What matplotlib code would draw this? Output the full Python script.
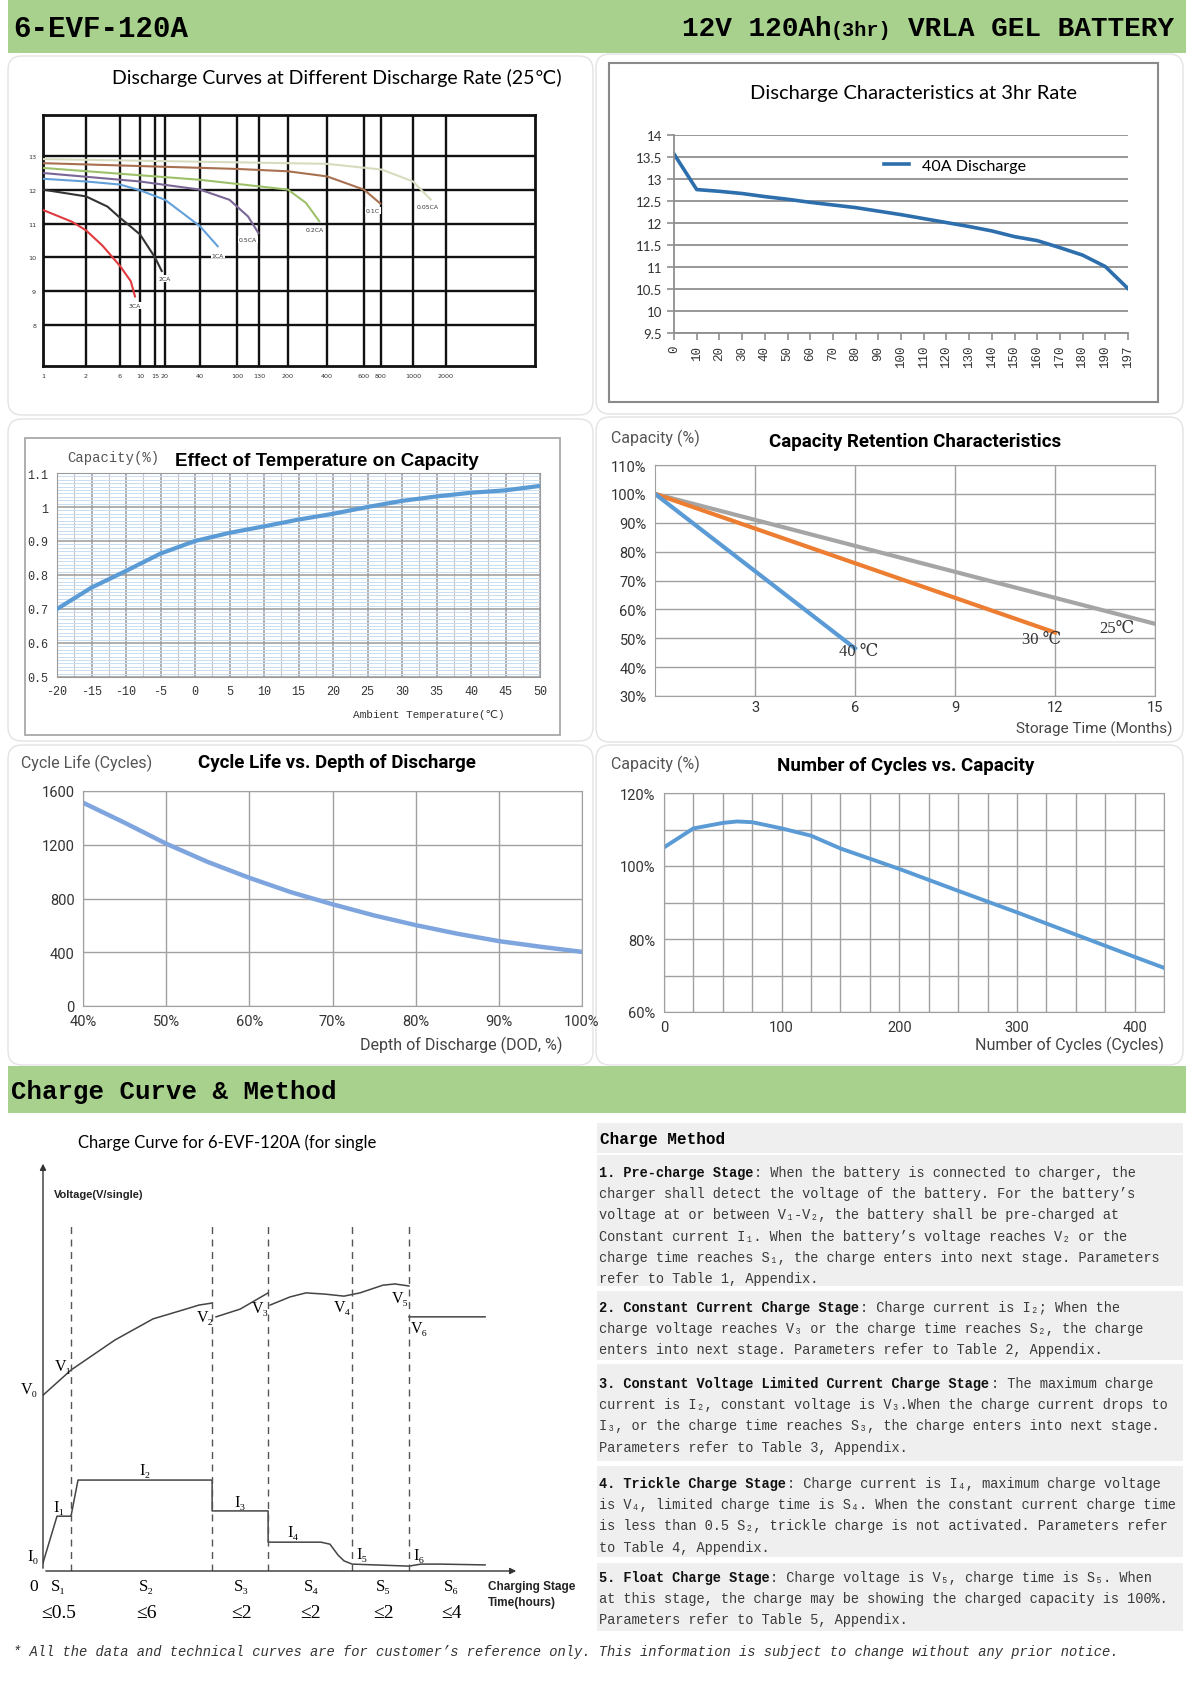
import numpy as np
import matplotlib
matplotlib.use("Agg")
import matplotlib.pyplot as plt
from matplotlib.patches import FancyBboxPatch, Rectangle
from matplotlib.transforms import IdentityTransform
from matplotlib.ticker import MultipleLocator

plt.rcParams["axes.unicode_minus"] = False

W, H = 1192, 1699

# ---------------- data ----------------
# discharge curves at different rates (x in minutes, y in volts)
rate_names = ["3CA", "2CA", "1CA", "0.5CA", "0.2CA", "0.1C", "0.05CA"]
t_3ca = [1, 1.6, 2, 3.4, 6, 7.9, 8.8]
v_3ca = [11.4, 11.05, 10.8, 10.35, 9.75, 9.3, 8.85]
t_2ca = [1, 2, 4, 6, 10, 15, 18.2]
v_2ca = [12.0, 11.8, 11.5, 11.17, 10.68, 10.0, 9.6]
t_1ca = [1, 2, 6, 10, 20, 40, 62]
v_1ca = [12.32, 12.24, 12.15, 11.98, 11.7, 10.92, 10.33]
t_05ca = [1, 10, 40, 83, 114, 129]
v_05ca = [12.49, 12.24, 12.0, 11.7, 11.21, 10.72]
t_02ca = [1, 40, 200, 275, 348]
v_02ca = [12.64, 12.29, 12.0, 11.61, 11.07]
t_01c = [1, 100, 200, 400, 600, 790]
v_01c = [12.78, 12.61, 12.54, 12.39, 12.0, 11.59]
t_005ca = [1, 400, 805, 1000, 1450]
v_005ca = [12.9, 12.76, 12.59, 12.24, 11.71]
rate_label_t = [8.8, 20, 62, 114, 321, 700, 1375]
rate_label_v = [8.59, 9.37, 10.07, 10.53, 10.82, 11.39, 11.51]
dc_ticks = [1, 2, 6, 10, 15, 20, 40, 100, 130, 200, 400, 600, 800, 1000, 2000]
dc_volt_ticks = [8, 9, 10, 11, 12, 13]

# discharge at 3hr rate
ah_labels = ["0", "10", "20", "30", "40", "50", "60", "70", "80", "90", "100", "110",
             "120", "130", "140", "150", "160", "170", "180", "190", "197"]
dis_volts = [13.57, 12.76, 12.72, 12.67, 12.6, 12.54, 12.47, 12.41, 12.35, 12.27, 12.19,
             12.1, 12.01, 11.92, 11.82, 11.69, 11.6, 11.44, 11.27, 11.01, 10.51]

# effect of temperature
temps = [-20, -15, -10, -5, 0, 5, 10, 15, 20, 25, 30, 35, 40, 45, 50]
temp_cap = [0.70, 0.763, 0.812, 0.863, 0.90, 0.924, 0.943, 0.963, 0.98, 1.0, 1.018,
            1.031, 1.042, 1.049, 1.062]

# capacity retention (months, %)
ret_months_40 = [0, 6]
ret_cap_40 = [100, 46.5]
ret_months_30 = [0, 12]
ret_cap_30 = [100, 52]
ret_months_25 = [0, 15]
ret_cap_25 = [100, 55]

# cycle life vs DOD
dod = [40, 45, 50, 55, 60, 65, 70, 75, 80, 85, 90, 95, 100]
cycle_life = [1513, 1364, 1208, 1072, 954, 847, 757, 674, 602, 538, 483, 441, 403]

# number of cycles vs capacity
n_cycles = [0, 25, 50, 62, 75, 100, 125, 150, 175, 200, 250, 300, 350, 400, 425]
cyc_cap = [105.1, 110.3, 111.8, 112.2, 112.0, 110.3, 108.3, 104.8, 102.0, 99.2, 93.2,
           87.3, 81.2, 75.1, 72.1]

# charge curve schematic (stage time units, relative level 0-100)
stage_bounds = [1.0, 6.04, 8.04, 11.04, 13.07]
volt_t = [0, 1.0, 2.57, 3.93, 5.0, 5.57, 6.04, None, 6.18, 7.04, 8.04, None, 8.11, 8.82,
          9.39, 10.07, 10.75, 11.32, 12.14, 12.57, 13.07, None, 13.07, 15.79]
volt_y = [43.3, 49.5, 56.9, 62.1, 64.3, 65.5, 66.0, None, 62.6, 64.5, 68.5, None, 65.5,
          67.5, 68.5, 68.2, 67.7, 68.5, 70.4, 70.7, 70.2, None, 62.6, 62.6]
curr_t = [0, 0.5, 1.0, 1.25, 6.04, 6.04, 8.04, 8.04, 9.93, 10.25, 10.54, 10.75, 11.04,
          13.07, 13.5, 14.18, 15.79]
curr_y = [2.0, 13.5, 13.5, 22.4, 22.4, 14.8, 14.8, 7.1, 7.1, 6.6, 3.9, 2.5, 1.7, 1.2,
          1.7, 1.7, 1.5]
v_names = ["V₀", "V₁", "V₂", "V₃", "V₄", "V₅", "V₆"]
v_name_x = [-0.5, 0.71, 5.79, 7.75, 10.68, 12.75, 13.43]
v_name_y = [44.8, 50.5, 62.6, 64.8, 65.0, 67.2, 59.9]
i_names = ["I₀", "I₁", "I₂", "I₃", "I₄", "I₅", "I₆"]
i_name_x = [-0.36, 0.57, 3.64, 7.04, 8.93, 11.39, 13.43]
i_name_y = [3.7, 15.8, 24.9, 17.0, 9.6, 4.2, 3.9]
s_names = ["S₁", "S₂", "S₃", "S₄", "S₅", "S₆"]
s_limits = ["≤0.5", "≤6", "≤2", "≤2", "≤2", "≤4"]
s_centers = [0.55, 3.7, 7.1, 9.57, 12.15, 14.6]

# charge method text
method_heading = "Charge Method"
method_items = [
    ("1. Pre-charge Stage", [
        ": When the battery is connected to charger, the",
        "charger shall detect the voltage of the battery. For the battery’s",
        "voltage at or between V₁-V₂, the battery shall be pre-charged at",
        "Constant current I₁. When the battery’s voltage reaches V₂ or the",
        "charge time reaches S₁, the charge enters into next stage. Parameters",
        "refer to Table 1, Appendix."]),
    ("2. Constant Current Charge Stage", [
        ": Charge current is I₂; When the",
        "charge voltage reaches V₃ or the charge time reaches S₂, the charge",
        "enters into next stage. Parameters refer to Table 2, Appendix."]),
    ("3. Constant Voltage Limited Current Charge Stage", [
        ": The maximum charge",
        "current is I₂, constant voltage is V₃.When the charge current drops to",
        "I₃, or the charge time reaches S₃, the charge enters into next stage.",
        "Parameters refer to Table 3, Appendix."]),
    ("4. Trickle Charge Stage", [
        ": Charge current is I₄, maximum charge voltage",
        "is V₄, limited charge time is S₄. When the constant current charge time",
        "is less than 0.5 S₂, trickle charge is not activated. Parameters refer",
        "to Table 4, Appendix."]),
    ("5. Float Charge Stage", [
        ": Charge voltage is V₅, charge time is S₅. When",
        "at this stage, the charge may be showing the charged capacity is 100%.",
        "Parameters refer to Table 5, Appendix."]),
]
footer = ("* All the data and technical curves are for customer’s reference only. "
          "This information is subject to change without any prior notice.")

# ---------------- helpers ----------------
fig = plt.figure(figsize=(W / 100, H / 100), dpi=100)
fig.patch.set_facecolor("white")

MONO = ["Liberation Mono", "DejaVu Sans Mono", "DejaVu Sans"]
SERIF = ["Liberation Serif", "DejaVu Serif"]
CAL = ["Lato", "DejaVu Sans"]
DIN = ["Roboto", "DejaVu Sans"]


def px_axes(l, t, r, b):
    return fig.add_axes([l / W, 1 - b / H, (r - l) / W, (b - t) / H])


def box(l, t, r, b, fc="white", ec="#e3e3e3", rnd=14, lw=1.0, z=-5):
    if rnd:
        p = FancyBboxPatch((l, H - b), r - l, b - t,
                           boxstyle="round,pad=0,rounding_size=%d" % rnd,
                           transform=IdentityTransform(), fc=fc, ec=ec, lw=lw, zorder=z)
    else:
        p = Rectangle((l, H - b), r - l, b - t, transform=IdentityTransform(),
                      fc=fc, ec=ec, lw=lw, zorder=z)
    fig.patches.append(p)


def ftext(x, y, s, **kw):
    kw.setdefault("va", "center")
    return fig.text(x / W, 1 - y / H, s, **kw)


# ---------------- page frame ----------------
box(8, 0, 1186, 54, fc="#a9d18e", ec="none", rnd=0)
box(8, 1067, 1186, 1114, fc="#a9d18e", ec="none", rnd=0)
ftext(13, 29, "6-EVF-120A", family=MONO, fontsize=21, weight="bold")
ftext(682, 29, "12V 120Ah", family=MONO, fontsize=20, weight="bold")
ftext(831, 31, "(3hr)", family=MONO, fontsize=14.5, weight="bold")
ftext(908, 29, "VRLA GEL BATTERY", family=MONO, fontsize=20, weight="bold")
ftext(11, 1092, "Charge Curve & Method", family=MONO, fontsize=18.5, weight="bold")

box(8, 57, 593, 416)
box(596, 55, 1183, 415)
box(8, 420, 593, 742)
box(596, 418, 1183, 743)
box(8, 746, 593, 1066)
box(596, 746, 1183, 1066)

# ---------------- discharge curves at different rates ----------------
ftext(337, 78, "Discharge Curves at Different Discharge Rate (25℃)", family=CAL,
      fontsize=14, ha="center")
ax1 = px_axes(43, 116, 535, 367)
tick_px = [43, 86, 120, 140, 155, 165, 200, 237, 259, 288, 327, 364, 381, 413, 446, 535]
log_pts = np.log10(dc_ticks + [12900])


def fwd(x):
    return np.interp(np.log10(np.clip(x, 1e-6, None)), log_pts, tick_px)


def inv(p):
    return 10 ** np.interp(p, tick_px, log_pts)


ax1.set_xscale("function", functions=(fwd, inv))
rate_colors = ["#e0393e", "#333333", "#62a0da", "#7a6796", "#9dc16a", "#a8704f", "#d8dcbf"]
series = [(t_3ca, v_3ca), (t_2ca, v_2ca), (t_1ca, v_1ca), (t_05ca, v_05ca),
          (t_02ca, v_02ca), (t_01c, v_01c), (t_005ca, v_005ca)]
for (tt, vv), c in zip(series, rate_colors):
    ax1.plot(tt, vv, color=c, lw=1.5, zorder=3)
for name, tx, vy in zip(rate_names, rate_label_t, rate_label_v):
    ax1.text(tx, vy, name, fontsize=4.4, ha="center", va="center", color="#333",
             bbox=dict(fc="white", ec="none", pad=0.6), zorder=4)
ax1.set_xlim(1, 12900)
ax1.set_ylim(6.8, 14.2)
ax1.set_xticks(dc_ticks)
ax1.set_xticklabels([str(t) for t in dc_ticks])
ax1.xaxis.set_minor_locator(plt.NullLocator())
ax1.set_yticks(dc_volt_ticks)
ax1.grid(True, color="#111111", lw=1.7, zorder=1)
ax1.set_axisbelow(True)
ax1.tick_params(length=0, labelsize=4.6, colors="#333", pad=5)
for s in ax1.spines.values():
    s.set_linewidth(2)
    s.set_color("#111111")

# ---------------- discharge characteristics at 3hr rate ----------------
box(609, 64, 1158, 403, fc="white", ec="#8a8a8a", rnd=0, lw=1.5, z=-4)
ftext(913, 93, "Discharge Characteristics at 3hr Rate", family=CAL, fontsize=14.5,
      ha="center")
ax2 = px_axes(674, 136, 1128, 334)
ax2.plot(range(len(dis_volts)), dis_volts, color="#2d6ead", lw=2.6, label="40A Discharge")
ax2.set_xlim(0, len(dis_volts) - 1)
ax2.set_ylim(9.5, 14)
yt = np.arange(9.5, 14.01, 0.5)
ax2.set_yticks(yt)
ax2.set_yticklabels(["%g" % v for v in yt], family=CAL, fontsize=9.5, color="#333")
ax2.set_xticks(range(len(ah_labels)))
ax2.set_xticklabels(ah_labels, rotation=90, family=MONO, fontsize=9, color="#333")
ax2.grid(True, axis="y", color="#8f8f8f", lw=1.3)
ax2.set_axisbelow(True)
ax2.tick_params(direction="out", length=5, color="#8f8f8f", width=1.2)
for k in ["top", "right"]:
    ax2.spines[k].set_visible(False)
for k in ["left", "bottom"]:
    ax2.spines[k].set_color("#8f8f8f")
    ax2.spines[k].set_linewidth(1.3)
ax2.legend(loc="center left", bbox_to_anchor=(0.43, 0.845), frameon=False,
           handlelength=1.6, prop={"family": CAL, "size": 11.5})

# ---------------- effect of temperature on capacity ----------------
box(25, 439, 560, 736, fc="white", ec="#a8a8a8", rnd=0, lw=1.3, z=-4)
ftext(327, 462, "Effect of Temperature on Capacity", family=["Liberation Sans"],
      fontsize=13.5, weight="bold", ha="center")
ftext(67, 458, "Capacity(%)", family=MONO, fontsize=10, color="#555")
ftext(429, 715, "Ambient Temperature(℃)", family=MONO, fontsize=8, color="#333",
      ha="center")
ax3 = px_axes(57, 474, 540, 678)
ax3.plot(temps, temp_cap, color="#5b9bd5", lw=3, zorder=3)
ax3.set_xlim(-20, 50)
ax3.set_ylim(0.5, 1.1)
ax3.set_xticks(temps)
ax3.set_yticks(np.arange(0.5, 1.101, 0.1))
ax3.set_yticklabels(["%g" % round(v, 1) for v in np.arange(0.5, 1.101, 0.1)])
ax3.xaxis.set_minor_locator(MultipleLocator(2.5))
ax3.yaxis.set_minor_locator(MultipleLocator(0.01))
ax3.grid(True, which="minor", axis="y", color="#c9ddf1", lw=0.7)
ax3.grid(True, which="minor", axis="x", color="#c4c4c4", lw=0.8)
ax3.grid(True, which="major", color="#9a9a9a", lw=1.1)
ax3.set_axisbelow(True)
ax3.tick_params(which="both", length=0, labelsize=8.5, colors="#333", pad=6)
for lab in ax3.get_xticklabels() + ax3.get_yticklabels():
    lab.set_family(MONO)
for s in ax3.spines.values():
    s.set_color("#9a9a9a")

# ---------------- capacity retention ----------------
ftext(611, 438, "Capacity (%)", family=DIN, fontsize=11.5, color="#555")
ftext(915, 442, "Capacity Retention Characteristics", family=DIN, fontsize=13.5,
      weight="bold", ha="center")
ftext(1172, 729, "Storage Time (Months)", family=DIN, fontsize=11, color="#444",
      ha="right")
ax4 = px_axes(655, 466, 1155, 697)
ax4.plot(ret_months_25, ret_cap_25, color="#a5a5a5", lw=3)
ax4.plot(ret_months_30, ret_cap_30, color="#ed7d31", lw=3)
ax4.plot(ret_months_40, ret_cap_40, color="#5b9bd5", lw=3)
ax4.text(6.1, 45.6, "40 ℃", family=SERIF, fontsize=12, color="#333", ha="center",
         va="center")
ax4.text(11.6, 49.7, "30 ℃", family=SERIF, fontsize=12, color="#333", ha="center",
         va="center")
ax4.text(13.86, 53.6, "25℃", family=SERIF, fontsize=12, color="#333", ha="center",
         va="center")
ax4.set_xlim(0, 15)
ax4.set_ylim(30, 110)
ax4.set_xticks([3, 6, 9, 12, 15])
ax4.set_yticks(range(30, 111, 10))
ax4.set_yticklabels(["%d%%" % v for v in range(30, 111, 10)])

# ---------------- cycle life vs DOD ----------------
ftext(21, 763, "Cycle Life (Cycles)", family=DIN, fontsize=11.5, color="#555")
ftext(337, 763, "Cycle Life vs. Depth of Discharge", family=DIN, fontsize=13.5,
      weight="bold", ha="center")
ftext(563, 1045, "Depth of Discharge (DOD, %)", family=DIN, fontsize=11.5, color="#444",
      ha="right")
ax5 = px_axes(83, 792, 582, 1007)
ax5.plot(dod, cycle_life, color="#7fa5df", lw=3.2)
ax5.set_xlim(40, 100)
ax5.set_ylim(0, 1600)
ax5.set_xticks(range(40, 101, 10))
ax5.set_xticklabels(["%d%%" % v for v in range(40, 101, 10)])
ax5.set_yticks(range(0, 1601, 400))

# ---------------- number of cycles vs capacity ----------------
ftext(611, 764, "Capacity (%)", family=DIN, fontsize=11.5, color="#555")
ftext(906, 766, "Number of Cycles vs. Capacity", family=DIN, fontsize=13.5,
      weight="bold", ha="center")
ftext(1164, 1045, "Number of Cycles (Cycles)", family=DIN, fontsize=11.5, color="#444",
      ha="right")
ax6 = px_axes(664, 794, 1164, 1013)
ax6.plot(n_cycles, cyc_cap, color="#5b9bd5", lw=2.8)
ax6.set_xlim(0, 425)
ax6.set_ylim(60, 120)
ax6.set_xticks(range(0, 401, 100))
ax6.set_yticks(range(60, 121, 20))
ax6.set_yticklabels(["%d%%" % v for v in range(60, 121, 20)])
ax6.xaxis.set_minor_locator(MultipleLocator(25))
ax6.yaxis.set_minor_locator(MultipleLocator(10))
ax6.grid(True, which="minor", color="#a0a0a0", lw=1)

for ax in [ax4, ax5, ax6]:
    ax.grid(True, which="major", color="#a0a0a0", lw=1)
    ax.set_axisbelow(True)
    ax.tick_params(which="both", length=0, labelsize=10.5, colors="#333", pad=6)
    for lab in ax.get_xticklabels() + ax.get_yticklabels():
        lab.set_family(DIN)
    for s in ax.spines.values():
        s.set_color("#a0a0a0")
ax4.tick_params(axis="x", pad=3)

# ---------------- charge curve schematic ----------------
ftext(78, 1143, "Charge Curve for 6-EVF-120A (for single", family=CAL, fontsize=12)
ax7 = px_axes(43, 1166, 519, 1572)
ax7.set_xlim(0, 17)
ax7.set_ylim(0, 100)
ax7.axis("off")
vt = np.array([np.nan if v is None else v for v in volt_t], dtype=float)
vy = np.array([np.nan if v is None else v for v in volt_y], dtype=float)
ax7.plot(vt, vy, color="#444", lw=1.1)
ax7.plot(curr_t, curr_y, color="#444", lw=1.1)
for xb in stage_bounds:
    ax7.plot([xb, xb], [0, 85.2], color="#555", lw=1.0, ls=(0, (5, 4)))
ax7.annotate("", xy=(0, 101), xytext=(0, 0), annotation_clip=False,
             arrowprops=dict(arrowstyle="-|>", color="#333", lw=1.0, mutation_scale=9))
ax7.annotate("", xy=(17, 0), xytext=(0, 0), annotation_clip=False,
             arrowprops=dict(arrowstyle="-|>", color="#333", lw=1.0, mutation_scale=9))
for n, x, y in zip(v_names, v_name_x, v_name_y):
    ax7.text(x, y, n, family=SERIF, fontsize=11.5, ha="center", va="center")
for n, x, y in zip(i_names, i_name_x, i_name_y):
    ax7.text(x, y, n, family=SERIF, fontsize=12, ha="center", va="center")
ax7.text(-0.32, -3.7, "0", family=SERIF, fontsize=12.5, ha="center", va="center")
for n, lim, x in zip(s_names, s_limits, s_centers):
    ax7.text(x, -3.7, n, family=SERIF, fontsize=12, ha="center", va="center")
    ax7.text(x, -10.3, lim, family=SERIF, fontsize=14, ha="center", va="center")
ax7.text(15.9, -3.7, "Charging Stage", family=["Liberation Sans"], fontsize=8.5,
         weight="bold", va="center", color="#222")
ax7.text(15.9, -7.6, "Time(hours)", family=["Liberation Sans"], fontsize=8.5,
         weight="bold", va="center", color="#222")
ax7.text(0.39, 92.9, "Voltage(V/single)", family=["Liberation Sans"], fontsize=8,
         weight="bold", va="center", color="#222")

# ---------------- charge method text ----------------
box(597, 1124, 1183, 1154, fc="#efefef", ec="none", rnd=0)
ftext(600, 1140, method_heading, family=MONO, fontsize=11.5, weight="bold")
para_boxes = [(1156, 1287), (1292, 1361), (1365, 1462), (1467, 1558), (1564, 1632)]
para_first = [1173, 1308, 1384, 1484, 1578]
line_gap = 21.2
fs = 9.8
adv = 0.6 * fs * 100 / 72
for (label, lines), (bt, bb), y0 in zip(method_items, para_boxes, para_first):
    box(597, bt, 1183, bb, fc="#efefef", ec="none", rnd=0)
    ftext(599, y0, label, family=MONO, fontsize=fs, weight="bold", color="#111")
    ftext(599 + len(label) * adv, y0, lines[0], family=MONO, fontsize=fs, color="#3a3a3a")
    for i, ln in enumerate(lines[1:]):
        ftext(599, y0 + (i + 1) * line_gap, ln, family=MONO, fontsize=fs, color="#3a3a3a")

ftext(13, 1652, footer, family=MONO, fontsize=9.9, style="italic", color="#333")

fig.savefig("out.png", dpi=100)
